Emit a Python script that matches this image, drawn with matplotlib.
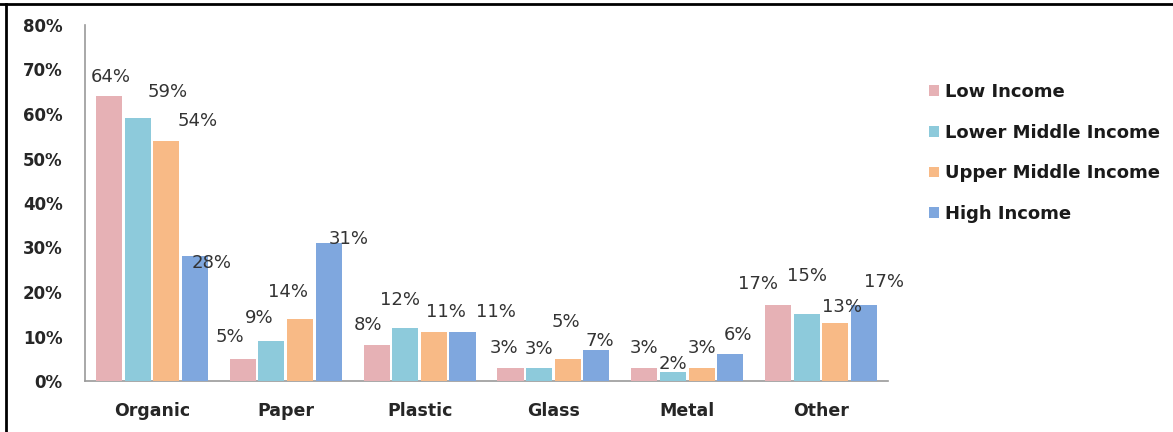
import matplotlib
matplotlib.use("Agg")
import matplotlib.pyplot as plt
import matplotlib.transforms as mtransforms
from matplotlib.lines import Line2D
from matplotlib.patches import Patch
import numpy as np

categories = ["Organic", "Paper", "Plastic", "Glass", "Metal", "Other"]
series_names = ["Low Income", "Lower Middle Income", "Upper Middle Income", "High Income"]
low_income = [64, 5, 8, 3, 3, 17]
lower_middle = [59, 9, 12, 3, 2, 15]
upper_middle = [54, 14, 11, 5, 3, 13]
high_income = [28, 31, 11, 7, 6, 17]
y_ticks = [0, 10, 20, 30, 40, 50, 60, 70, 80]

series = [low_income, lower_middle, upper_middle, high_income]
colors = ["#E6B1B5", "#8DCADB", "#F8BA86", "#7FA7DE"]

# label offsets (pixels) relative to each bar's top-centre, per series per category
label_offsets = [
    [(2, 19), (-13, 22), (-9, 20), (-6, 20), (0, 20), (-20, 21)],
    [(30, 26), (-12, 23), (-5, 28), (0, 19), (0, 8), (0, 38)],
    [(31, 20), (-12, 27), (12, 20), (-2, 37), (0, 20), (7, 16)],
    [(17, -7), (20, 4), (33, 20), (3, 9), (8, 19), (20, 23)],
]

W, H = 1173, 432
fig = plt.figure(figsize=(W / 100, H / 100), dpi=100)
ax = fig.add_axes([85 / W, 1 - 381 / H, (888 - 85) / W, (381 - 25) / H])

x = np.arange(len(categories))
pitch = 0.214
width = 0.195
for i, (vals, col) in enumerate(zip(series, colors)):
    pos = x + (i - 1.5) * pitch
    ax.bar(pos, vals, width=width, color=col, label=series_names[i], zorder=3)
    for j, v in enumerate(vals):
        dx, dy = label_offsets[i][j]
        ax.annotate(f"{v}%", xy=(pos[j], v), xytext=(dx, dy), textcoords="offset pixels",
                    ha="center", va="center", fontsize=13, color="#333333",
                    family="DejaVu Sans", zorder=5)

ax.set_xlim(-0.5, len(categories) - 0.5)
ax.set_ylim(0, 80)
ax.set_yticks(y_ticks)
ax.set_yticklabels([f"{t}%" for t in y_ticks], fontsize=12, fontweight="bold", color="#262626")
shift = mtransforms.ScaledTranslation(0, -3 / 100, fig.dpi_scale_trans)
for lab in ax.get_yticklabels():
    lab.set_transform(lab.get_transform() + shift)
ax.set_xticks(x)
ax.set_xticklabels(categories, fontsize=12.5, fontweight="bold", color="#262626")
ax.tick_params(axis="y", length=0, pad=16)
ax.tick_params(axis="x", length=0, pad=15)
for s in ["top", "right"]:
    ax.spines[s].set_visible(False)
for s in ["left", "bottom"]:
    ax.spines[s].set_color("#9A9A9A")
    ax.spines[s].set_linewidth(1.2)

handles = [Patch(facecolor=c, edgecolor="none") for c in colors]
leg = fig.legend(handles, series_names, loc="upper left", bbox_to_anchor=(922 / W, 1 - 76 / H),
                 frameon=False, handlelength=0.55, handleheight=0.55, handletextpad=0.35,
                 labelspacing=1.25, borderaxespad=0,
                 prop={"family": "DejaVu Sans", "weight": "bold", "size": 13})
for t in leg.get_texts():
    t.set_color("#1a1a1a")

# outer frame lines (top and left)
fig.add_artist(Line2D([0, 1], [1 - 3.5 / H, 1 - 3.5 / H], transform=fig.transFigure, color="black", linewidth=2))
fig.add_artist(Line2D([6 / W, 6 / W], [0, 1 - 3.5 / H], transform=fig.transFigure, color="black", linewidth=2))

fig.savefig("out.png", dpi=100)
